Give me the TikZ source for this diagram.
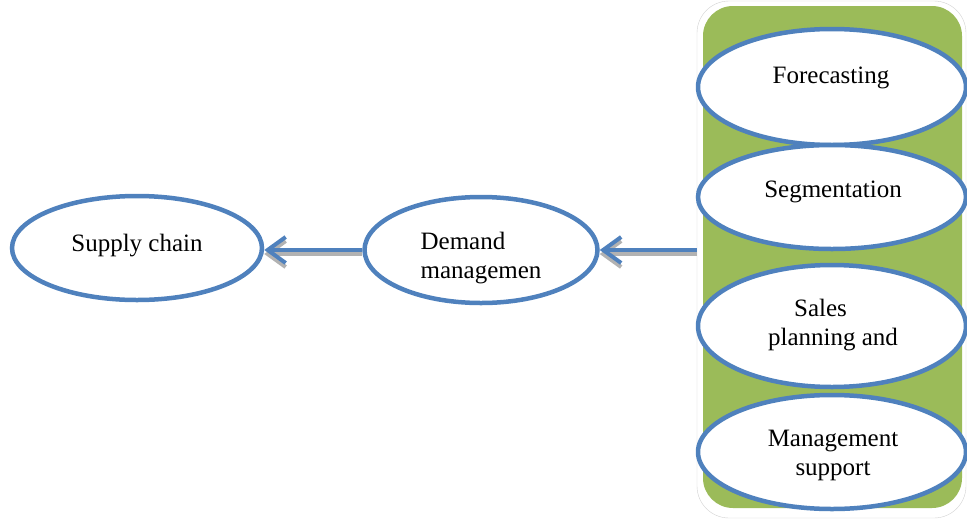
\documentclass[tikz,border=0pt]{standalone}
\usepackage{fontspec}
\setmainfont{Liberation Serif}
\usetikzlibrary{shapes.geometric,arrows.meta}
\definecolor{eblue}{RGB}{79,129,189}
\definecolor{pgreen}{RGB}{155,187,89}
\begin{document}
\begin{tikzpicture}[x=1pt,y=-1pt,
  ell/.style={ellipse,draw=eblue,line width=4.5pt,fill=white,inner sep=0pt},
  lbl/.style={font=\fontsize{25}{29}\selectfont,inner sep=0pt},
  arr/.style={draw=eblue,line width=4pt,-{Straight Barb[length=18pt,width=26pt,line width=4pt]}},
  arrsh/.style={draw=gray!60,line width=4pt,-{Straight Barb[length=18pt,width=26pt,line width=4pt]}}]
\useasboundingbox (0,0) rectangle (967,520);
% panel
\node[draw=gray!35,fill=white,rounded corners=32pt,minimum width=269pt,minimum height=517pt,inner sep=0pt] (outer) at (831.5,259.5) {};
\node[fill=pgreen,rounded corners=30pt,minimum width=259pt,minimum height=502pt,inner sep=0pt] (panel) at (832.5,257) {};
% ellipses
\node[ell,minimum width=268pt,minimum height=116pt] (fc) at (832,87) {};
\node[ell,minimum width=268pt,minimum height=104pt] (sg) at (832,197) {};
\node[ell,minimum width=268pt,minimum height=122pt] (sp) at (832,326) {};
\node[ell,minimum width=268pt,minimum height=114pt] (ms) at (832,452) {};
\node[ell,minimum width=250pt,minimum height=104pt] (supply) at (137,248) {};
\node[ell,minimum width=233pt,minimum height=106pt] (demand) at (481,250) {};
% labels
\node[lbl] (tfc) at (831,78) {Forecasting};
\node[lbl] (tsg) at (833,192) {Segmentation};
\node[lbl,align=center] (tsp) at (833,325) {Sales\hspace*{25pt}\mbox{}\\planning and};
\node[lbl,align=center] (tms) at (833,455) {Management\\support};
\node[lbl] (tsu) at (137,246) {Supply chain};
\node[lbl,align=left] (tde) at (481,258) {Demand\\managemen};
% arrows
\draw[arrsh] ([yshift=-4pt]outer.west |- demand.east) -- ([yshift=-4pt]demand.east);
\draw[arr] (outer.west |- demand.east) -- (demand.east);
\draw[arrsh] ([yshift=-4pt]demand.west) -- ([yshift=-4pt]demand.west -| supply.east);
\draw[arr] (demand.west) -- (demand.west -| supply.east);
\end{tikzpicture}
\end{document}
